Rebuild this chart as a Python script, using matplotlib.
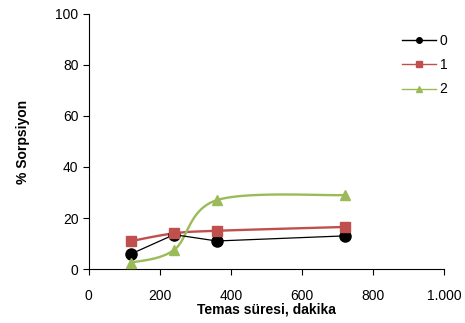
import numpy as np
import matplotlib
matplotlib.use("Agg")
import matplotlib.pyplot as plt
from matplotlib.ticker import FuncFormatter

plt.rcParams['font.family'] = ['Liberation Sans', 'DejaVu Sans']

# Data
time_min = [120, 240, 360, 720]
s0 = [6, 13.5, 11, 13]
s1 = [11, 14, 15, 16.5]
s2 = [2.5, 7.5, 27, 29]
labels = ["0", "1", "2"]


def excel_smooth(x, y, n=30):
    # Excel-style smoothed line (cubic Bezier through the points)
    x = np.asarray(x, float)
    y = np.asarray(y, float)
    px = np.concatenate([[x[0]], x, [x[-1]]])
    py = np.concatenate([[y[0]], y, [y[-1]]])
    xs, ys = [], []
    t = np.linspace(0, 1, n)
    for i in range(1, len(x)):
        p0 = np.array([px[i], py[i]])
        p3 = np.array([px[i + 1], py[i + 1]])
        c1 = p0 + (np.array([px[i + 1], py[i + 1]]) - np.array([px[i - 1], py[i - 1]])) / 6
        c2 = p3 - (np.array([px[i + 2], py[i + 2]]) - np.array([px[i], py[i]])) / 6
        b = ((1 - t) ** 3)[:, None] * p0 + (3 * (1 - t) ** 2 * t)[:, None] * c1 \
            + (3 * (1 - t) * t ** 2)[:, None] * c2 + (t ** 3)[:, None] * p3
        xs.extend(b[:, 0])
        ys.extend(b[:, 1])
    return xs, ys


fig = plt.figure(figsize=(4.65, 3.23), dpi=100)
ax = fig.add_axes([0.191, 0.167, 0.764, 0.79])

black = "black"
red = "#C0504D"
green = "#9BBB59"

ax.plot(time_min, s0, color=black, lw=0.9, zorder=3)
ax.plot(time_min, s0, "o", color=black, ms=8, zorder=4)
ax.plot([], [], color=black, lw=1, marker="o", ms=4, label=labels[0])

x1, y1 = excel_smooth(time_min, s1)
ax.plot(x1, y1, color=red, lw=1.7, zorder=2)
ax.plot(time_min, s1, "s", color=red, ms=6.5, zorder=4)
ax.plot([], [], color=red, lw=1, marker="s", ms=4, label=labels[1])

x2, y2 = excel_smooth(time_min, s2)
ax.plot(x2, y2, color=green, lw=1.7, zorder=2)
ax.plot(time_min, s2, "^", color=green, ms=7, zorder=4)
ax.plot([], [], color=green, lw=1, marker="^", ms=4, label=labels[2])

ax.set_xlim(0, 1000)
ax.set_ylim(0, 100)
ax.set_xticks([0, 200, 400, 600, 800, 1000])
ax.set_yticks([0, 20, 40, 60, 80, 100])
ax.xaxis.set_major_formatter(FuncFormatter(lambda v, p: f"{int(v):,}".replace(",", ".")))
ax.spines['top'].set_visible(False)
ax.spines['right'].set_visible(False)
ax.tick_params(direction="out", length=4, labelsize=10, colors="black")
ax.tick_params(axis="x", pad=10)
ax.set_xlabel("Temas süresi, dakika", fontsize=10, fontweight="bold", labelpad=0)
ax.set_ylabel("% Sorpsiyon", fontsize=10, fontweight="bold", labelpad=18)

ax.legend(loc="upper right", bbox_to_anchor=(1.045, 0.972), frameon=False, fontsize=10,
          handlelength=2.4, labelspacing=0.75, handletextpad=0.3)

fig.savefig("out.png", dpi=100)
